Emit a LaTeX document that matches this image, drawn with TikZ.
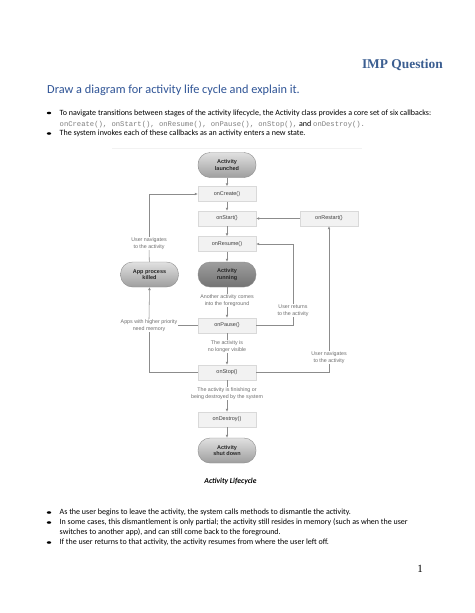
\documentclass[tikz,border=0pt]{standalone}
\usepackage{fontspec}
\setmainfont{Carlito}
\newfontfamily\headserif{Liberation Serif}
\newfontfamily\diagfont{Liberation Sans}
\newfontfamily\monofont{Liberation Mono}
\usetikzlibrary{arrows.meta,shapes.geometric}
\definecolor{headblue}{HTML}{3B5E91}
\definecolor{titleblue}{HTML}{2F5496}
\definecolor{codegrey}{HTML}{7F7F7F}
\definecolor{linegrey}{HTML}{8C8C8C}
\definecolor{labgrey}{HTML}{6E6E6E}
\tikzset{
  bodytext/.style={anchor=base west, inner sep=0pt, font=\fontsize{8}{9.6}\selectfont},
  bulletmark/.style={fill=black, ellipse, minimum width=4.4pt, minimum height=2.6pt, inner sep=0pt},
  rbox/.style={rectangle, fill=black!5, draw=black!15, line width=0.4pt, minimum width=58pt, minimum height=15pt, inner sep=0pt, text=black!75, font=\diagfont\fontsize{5.5}{6}\selectfont},
  pill/.style={rectangle, rounded corners=12pt, minimum width=58pt, minimum height=25pt, inner sep=0pt, draw=black!45, line width=0.4pt, top color=black!12, bottom color=black!38, text=black!85, align=center, font=\diagfont\bfseries\fontsize{5.5}{6.3}\selectfont},
  darkpill/.style={pill, top color=black!38, bottom color=black!55},
  lab/.style={align=center, inner sep=0.6pt, text=labgrey, font=\diagfont\fontsize{5.3}{6.6}\selectfont},
  conn/.style={draw=linegrey, line width=0.55pt},
  arr/.style={conn, -{Latex[length=3pt,width=2.8pt]}}
}
\begin{document}
\begin{tikzpicture}[x=1pt,y=-1pt]
\useasboundingbox (0,0) rectangle (474,613);
\fill[white] (0,0) rectangle (474,613);

% heading
\node[anchor=base east, inner sep=0pt, text=headblue, font=\headserif\bfseries\fontsize{13.4}{15}\selectfont] (imp) at (443,68) {IMP Question};
\node[anchor=base west, inner sep=0pt, text=titleblue, font=\fontsize{12.3}{14}\selectfont] (title) at (47,93.5) {Draw a diagram for activity life cycle and explain it.};

% top bullets
\node[bulletmark] (b1) at (49,113) {};
\node[bodytext] (l1) at (59.5,115.5) {To navigate transitions between stages of the activity lifecycle, the Activity class provides a core set of six callbacks:};
\node[bodytext] (l2) at (59.5,126) {\textcolor{codegrey}{\monofont\fontsize{7.2}{8.6}\selectfont onCreate(), onStart(), onResume(), onPause(), onStop(),} and \textcolor{codegrey}{\monofont\fontsize{7.2}{8.6}\selectfont onDestroy().}};
\node[bulletmark] (b2) at (49,133.5) {};
\node[bodytext] (l3) at (59.5,135.5) {The system invokes each of these callbacks as an activity enters a new state.};

% faint top edge of the figure
\draw[black!5, line width=0.6pt] (112,148) -- (362,148);

% diagram nodes
\node[pill] (launched) at (227,165) {Activity\\launched};
\node[rbox] (create) at (227,194) {onCreate()};
\node[rbox] (start) at (227,218.5) {onStart()};
\node[rbox] (restart) at (329,218.5) {onRestart()};
\node[rbox] (resume) at (227,244) {onResume()};
\node[pill] (killed) at (149.5,274.5) {App process\\killed};
\node[darkpill] (running) at (227,274.5) {Activity\\running};
\node[rbox] (pause) at (227,325.5) {onPause()};
\node[rbox] (stop) at (227,372.5) {onStop()};
\node[rbox] (destroy) at (227,419.5) {onDestroy()};
\node[pill] (shut) at (227,450.5) {Activity\\shut down};

% labels
\node[lab] (t1) at (227,300.5) {Another activity comes\\into the foreground};
\node[lab] (t2) at (227,346.5) {The activity is\\no longer visible};
\node[lab] (t3) at (227,393.5) {The activity is finishing or\\being destroyed by the system};
\node[lab] (t4) at (149,243.5) {User navigates\\to the activity};
\node[lab] (t5) at (149,325.5) {Apps with higher priority\\need memory};
\node[lab] (t6) at (293,310.5) {User returns\\to the activity};
\node[lab] (t7) at (329,357.5) {User navigates\\to the activity};

% main column
\draw[arr] (launched) -- (create);
\draw[arr] (create) -- (start);
\draw[arr] (start) -- (resume);
\draw[arr] (resume) -- (running);
\draw[conn] (running) -- (t1);
\draw[arr] (t1) -- (pause);
\draw[conn] (pause) -- (t2);
\draw[arr] (t2) -- (stop);
\draw[conn] (stop) -- (t3);
\draw[arr] (t3) -- (destroy);
\draw[arr] (destroy) -- (shut);

% side loops
\draw[arr] (restart) -- (start);
\draw[conn] (killed) -- (t4);
\draw[arr] (t4.north) |- (create.west);
\draw[conn] (stop.west) -| (t5.south);
\draw[arr] (t5.north) -- (killed.south);
\draw[conn] (pause.west) -- (t5.east);
\draw[conn] (pause.east) -| (t6.south);
\draw[arr] (t6.north) |- (resume.east);
\draw[conn] (stop.east) -| (t7.south);
\draw[arr] (t7.north) -- (restart.south);

% caption
\node[anchor=base, inner sep=0pt, font=\bfseries\itshape\fontsize{7.6}{9}\selectfont] (cap) at (230.5,483.5) {Activity Lifecycle};

% bottom bullets
\node[bulletmark] (b3) at (49,512.5) {};
\node[bodytext] (m1) at (59.5,514.5) {As the user begins to leave the activity, the system calls methods to dismantle the activity.};
\node[bulletmark] (b4) at (49,522.5) {};
\node[bodytext] (m2) at (59.5,524.5) {In some cases, this dismantlement is only partial; the activity still resides in memory (such as when the user};
\node[bodytext] (m3) at (59.5,534) {switches to another app), and can still come back to the foreground.};
\node[bulletmark] (b5) at (49,542.5) {};
\node[bodytext] (m4) at (59.5,544.5) {If the user returns to that activity, the activity resumes from where the user left off.};

% page number
\node[anchor=base, inner sep=0pt, font=\headserif\fontsize{11}{13}\selectfont] (pg) at (420,572) {1};
\end{tikzpicture}
\end{document}
